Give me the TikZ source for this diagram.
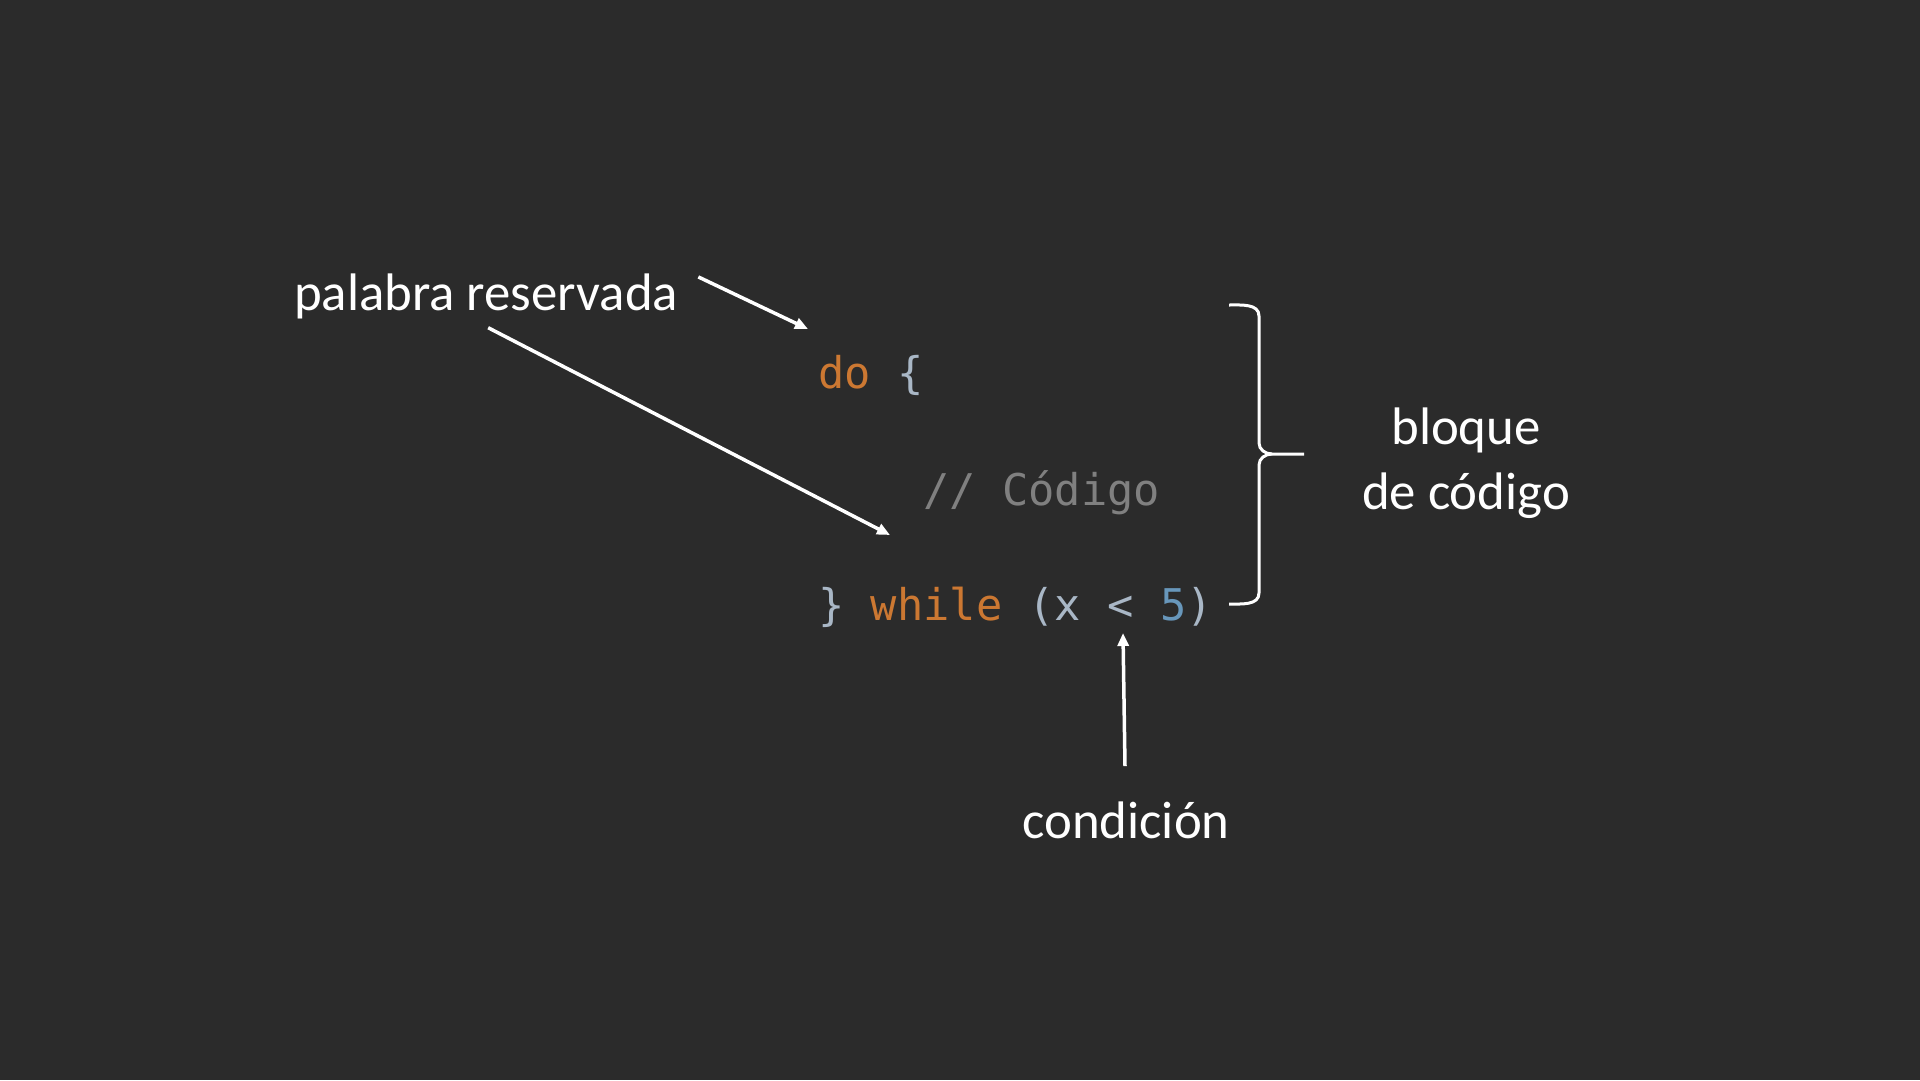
\documentclass[tikz,border=0pt]{standalone}
\usepackage{fontspec}
\setmainfont{Carlito}
\newfontfamily\codefont{DejaVu Sans Mono}
\usetikzlibrary{arrows.meta,calc}
\definecolor{fondo}{HTML}{2B2B2B}
\definecolor{clave}{HTML}{CC7832}
\definecolor{texto}{HTML}{A9B7C6}
\definecolor{comentario}{HTML}{808080}
\definecolor{numero}{HTML}{6897BB}
\tikzset{
	etiqueta/.style={text=white, inner sep=0pt, font=\fontsize{52.8}{65}\selectfont},
	codigo/.style={anchor=base west, inner sep=0pt, text=texto, font=\codefont\fontsize{43.7}{52}\selectfont},
	flecha/.style={white, line width=3.5pt, -{Triangle[length=13pt,width=11pt]}},
	llave/.style={white, line width=3pt}
}
\begin{document}
\begin{tikzpicture}[x=1pt,y=-1pt]
	\fill[fondo] (0,0) rectangle (1920,1080);
	\useasboundingbox (0,0) rectangle (1920,1080);
	% codigo
	\node[codigo] (do) at (818,388) {\textcolor{clave}{do} \{};
	\node[codigo, text=comentario] (coment) at (923,505) {// Código};
	\node[codigo] (while) at (818,620) {\} \textcolor{clave}{while} (x < \textcolor{numero}{5})};
	% etiquetas
	\node[etiqueta, anchor=base west] (palabra) at (294,310) {palabra reservada};
	\node[etiqueta, anchor=base] (condicion) at (1126,838) {condición};
	\node[etiqueta, align=center] (bloque) at (1466,463) {bloque\\de código};
	\coordinate (kwdo) at (808,329);
	\coordinate (kwwhile) at (890,535);
	\coordinate (menor) at (1123,633);
	\draw[flecha] ($(palabra.east)+(20,-19)$) -- (kwdo);
	\draw[flecha] ($(palabra.south)+(2,9)$) -- (kwwhile);
	\draw[flecha] ($(condicion.north)+(-1,-35)$) -- (menor);
	% llave
	\draw[llave] (1229,305) to[out=0,in=90] (1259,316) -- (1259,443) to[out=-90,in=180] (1272,454) -- (1304,454);
	\draw[llave] (1272,454) to[out=180,in=90] (1259,465) -- (1259,593) to[out=-90,in=0] (1229,604);
\end{tikzpicture}
\end{document}
